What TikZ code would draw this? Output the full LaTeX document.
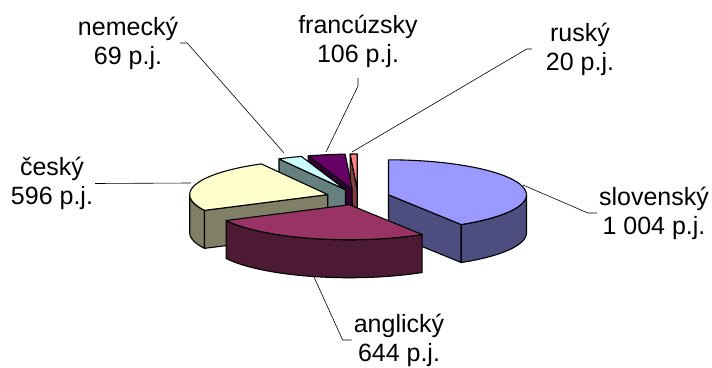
\documentclass[tikz,border=0pt]{standalone}
\usepackage{fontspec}
\setmainfont{Liberation Sans}

\definecolor{slovTop}{HTML}{9999FF}
\definecolor{slovSide}{HTML}{4D4D80}
\definecolor{anglTop}{HTML}{993366}
\definecolor{anglSide}{HTML}{4D1A33}
\definecolor{ceskTop}{HTML}{FFFFCC}
\definecolor{ceskSide}{HTML}{808066}
\definecolor{nemTop}{HTML}{CCFFFF}
\definecolor{nemSide}{HTML}{668080}
\definecolor{frTop}{HTML}{660066}
\definecolor{frSide}{HTML}{330033}
\definecolor{rusTop}{HTML}{FF8080}
\definecolor{rusSide}{HTML}{804040}

\def\rx{138}
\def\ry{35}
\def\hh{38}

% top of a slice: centre x, centre y, from angle, to angle, colour
\newcommand{\toppart}[5]{%
  \filldraw[face, fill=#5] (#1,#2) -- plot[domain=#3:#4, samples=40]
    ({#1+\rx*cos(\x)}, {#2-\ry*sin(\x)}) -- cycle;}
% curved outer side: centre x, centre y, from angle, to angle, colour
\newcommand{\rimside}[5]{%
  \filldraw[face, fill=#5] plot[domain=#3:#4, samples=40]
    ({#1+\rx*cos(\x)}, {#2-\ry*sin(\x)}) -- plot[domain=#4:#3, samples=40]
    ({#1+\rx*cos(\x)}, {#2-\ry*sin(\x)+\hh}) -- cycle;}
% flat cut side at one angle: centre x, centre y, angle, colour
\newcommand{\cutside}[4]{%
  \filldraw[face, fill=#4] (#1,#2) -- ({#1+\rx*cos(#3)}, {#2-\ry*sin(#3)})
    -- ++(0,\hh) -- ({#1}, {#2+\hh}) -- cycle;}

\begin{document}
\begin{tikzpicture}[x=1pt, y=-1pt,
    face/.style = {draw=black, line width=1.1pt, line join=round},
    lbl/.style = {align=center, inner sep=2pt,
                  font=\fontsize{25}{29}\selectfont},
    lead/.style = {draw=black, line width=0.6pt}]
  \useasboundingbox (0,0) rectangle (712,367);

  % back slices
  \cutside{357.2}{189}{92.95}{rusSide}
  \toppart{357.2}{189}{90}{92.95}{rusTop}
  \cutside{352.1}{189.1}{108.55}{frSide}
  \toppart{352.1}{189.1}{92.9}{108.55}{frTop}
  \cutside{345.3}{189.6}{118.73}{nemSide}
  \toppart{345.3}{189.6}{108.55}{118.73}{nemTop}

  % slovensky
  \cutside{388.5}{194.8}{-58.19}{slovSide}
  \rimside{388.5}{194.8}{-58.19}{0}{slovSide}
  \toppart{388.5}{194.8}{-58.19}{90}{slovTop}

  % cesky
  \rimside{327.7}{194.6}{180}{206.76}{ceskSide}
  \cutside{327.7}{194.6}{206.76}{ceskSide}
  \toppart{327.7}{194.6}{118.73}{206.76}{ceskTop}

  % anglicky
  \rimside{349.4}{204.75}{-153.24}{-58.19}{anglSide}
  \toppart{349.4}{204.75}{-153.24}{-58.19}{anglTop}

  % labels
  \node[lbl] (lnem) at (128,43) {nemecký\\69 p.j.};
  \node[lbl] (lfr) at (358,41.5) {francúzsky\\106 p.j.};
  \node[lbl] (lrus) at (580,49) {ruský\\20 p.j.};
  \node[lbl] (lcz) at (52,183.5) {český\\596 p.j.};
  \node[lbl] (lslov) at (654,213) {slovenský\\1 004 p.j.};
  \node[lbl] (lang) at (399,340) {anglický\\644 p.j.};

  \coordinate (pnem) at (284,153);
  \coordinate (pfr) at (326,152);
  \coordinate (prus) at (352,152);
  \coordinate (pcz) at (191,183);
  \coordinate (pslov) at (523,185);
  \coordinate (pang) at (314,277);

  \draw[lead] (lnem.east) -- ++(7,0) -- (pnem);
  \draw[lead] ([yshift=-8pt]lfr.south) -- ++(0,8) -- (pfr);
  \draw[lead] ([xshift=-12pt]lrus.west) -- ++(-5,0) -- (prus);
  \draw[lead] (lcz.east) -- (pcz);
  \draw[lead] (lslov.west) -- ++(-9,0) -- (pslov);
  \draw[lead] (lang.west) -- ++(-9,0) -- (pang);
\end{tikzpicture}
\end{document}
